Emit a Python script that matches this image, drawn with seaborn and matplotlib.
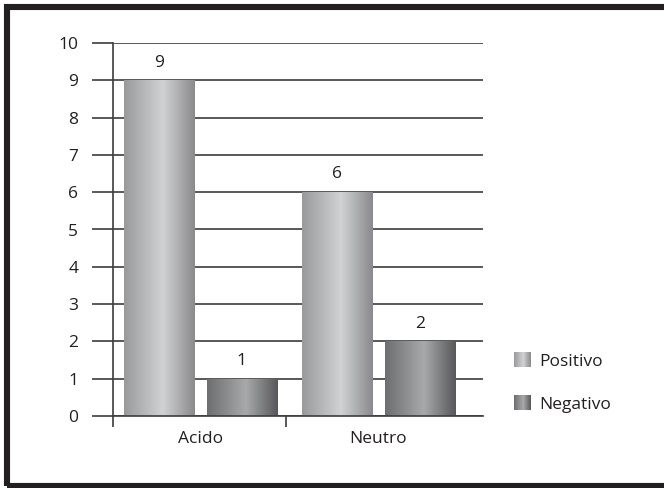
import numpy as np
import pandas as pd
import matplotlib
matplotlib.use("Agg")
import matplotlib.pyplot as plt
import seaborn as sns
from matplotlib.colors import LinearSegmentedColormap
from matplotlib.legend_handler import HandlerBase
from matplotlib.image import BboxImage
from matplotlib.transforms import Bbox, TransformedBbox
from matplotlib.patches import Rectangle, Patch

categories = ["Acido", "Neutro"]
series = ["Positivo", "Negativo"]
positivo = [9, 6]
negativo = [1, 2]
y_ticks = [0, 1, 2, 3, 4, 5, 6, 7, 8, 9, 10]

df = pd.DataFrame({
    "Tipo": categories * 2,
    "Valor": positivo + negativo,
    "Serie": [series[0]] * 2 + [series[1]] * 2,
})

# horizontal metallic gradients for each series
cmaps = {
    "Positivo": LinearSegmentedColormap.from_list(
        "pos", [(0, "#9a9a9c"), (0.55, "#d1d2d4"), (1, "#8a8a8c")]),
    "Negativo": LinearSegmentedColormap.from_list(
        "neg", [(0, "#6e6e70"), (0.55, "#a8a9ab"), (1, "#58585a")]),
}
flat = {"Positivo": "#b4b4b6", "Negativo": "#838385"}

sns.set_theme(style="white")
plt.rcParams["font.family"] = ["Open Sans", "DejaVu Sans"]
FS = 12.5
ink = "#231f20"
grid_c = "#3c3c3c"

fig = plt.figure(figsize=(6.64, 4.88), dpi=100)
W, H = 664, 488
ax = fig.add_axes([113 / W, 72 / H, 370 / W, 373 / H])

sns.barplot(data=df, x="Tipo", y="Valor", hue="Serie", hue_order=series,
            palette=[flat[s] for s in series], width=0.927, gap=0.152,
            saturation=1, ax=ax, legend=False)

xl = (-0.49, 1.587)
ax.set_xlim(*xl)
ax.set_ylim(0, 10)

grad = np.linspace(0, 1, 256).reshape(1, -1)
for cont, name in zip(ax.containers, series):
    for bar in cont:
        x0, y0 = bar.get_x(), bar.get_y()
        w, h = bar.get_width(), bar.get_height()
        bar.set_facecolor("none")
        bar.set_edgecolor("none")
        im = ax.imshow(grad, cmap=cmaps[name], aspect="auto",
                       extent=(x0, x0 + w, y0, y0 + h), zorder=2.5,
                       interpolation="bilinear")
        im.set_clip_path(bar)
    ax.bar_label(cont, labels=[f"{v:g}" for v in cont.datavalues],
                 padding=7, fontsize=FS, color=ink)

ax.set_xlim(*xl)
ax.set_ylim(0, 10)

# grid and axes
ax.set_yticks(y_ticks)
ax.yaxis.grid(True, color=grid_c, linewidth=1.2)
ax.xaxis.grid(False)
ax.set_axisbelow(True)
for s in ["top", "right"]:
    ax.spines[s].set_visible(False)
for s in ["left", "bottom"]:
    ax.spines[s].set_visible(True)
    ax.spines[s].set_color(grid_c)
    ax.spines[s].set_linewidth(1.2)
ax.tick_params(axis="y", which="major", direction="out", length=15.1,
               width=1.2, color=grid_c, pad=10, labelsize=FS, labelcolor=ink,
               left=True)
ax.set_xticks([0, 1])
ax.set_xticklabels(categories)
ax.set_xticks([-0.49, 0.48], minor=True)
ax.tick_params(axis="x", which="major", length=0, pad=10.5, labelsize=FS,
               labelcolor=ink)
ax.tick_params(axis="x", which="minor", direction="out", length=8,
               width=1.2, color=grid_c, bottom=True)
ax.set_xlabel("")
ax.set_ylabel("")


class GradientHandler(HandlerBase):
    def __init__(self, cmap):
        super().__init__()
        self.cmap = cmap

    def create_artists(self, legend, orig_handle, xdescent, ydescent,
                       width, height, fontsize, trans):
        bb = TransformedBbox(Bbox.from_bounds(-xdescent, -ydescent,
                                              width, height), trans)
        img = BboxImage(bb, cmap=self.cmap, interpolation="bilinear")
        img.set_data(grad)
        return [img]


handles = [Patch(facecolor=flat[s], label=s) for s in series]
leg = fig.legend(handles=handles, labels=series,
                 handler_map={h: GradientHandler(cmaps[s])
                              for h, s in zip(handles, series)},
                 loc="center left", bbox_to_anchor=(514 / W, 1 - 382.5 / H),
                 frameon=False, fontsize=FS, handlelength=0.95,
                 handleheight=0.95, handletextpad=0.5, labelspacing=1.45,
                 labelcolor=ink, borderaxespad=0, borderpad=0)

# outer frame
fig.patches.append(Rectangle((7 / W, 2 / H), 1.2, 479 / H,
                             transform=fig.transFigure, fill=False,
                             edgecolor=ink, linewidth=4.4, clip_on=False))

fig.savefig("out.png", dpi=100)
